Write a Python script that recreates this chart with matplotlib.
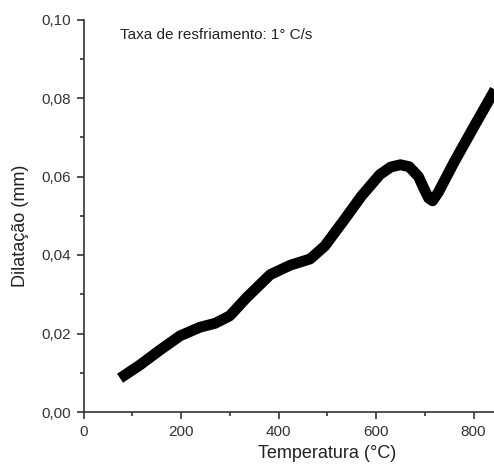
import matplotlib
matplotlib.use("Agg")
import matplotlib.pyplot as plt
from matplotlib.ticker import MultipleLocator, FuncFormatter

plt.rcParams['font.family'] = ['Liberation Sans', 'DejaVu Sans']

temperature = [75, 116, 157, 198, 239, 270, 300, 335, 383, 424, 465, 495, 535,
               570, 608, 630, 650, 668, 687, 700, 708, 716, 728, 760, 800, 838, 850]
dilatation = [0.0086, 0.0120, 0.0158, 0.0194, 0.0216, 0.0226, 0.0245, 0.0292,
              0.0350, 0.0374, 0.0390, 0.0423, 0.0490, 0.0550, 0.0605, 0.0624,
              0.0630, 0.0625, 0.0600, 0.0565, 0.0545, 0.0538, 0.0560, 0.0636,
              0.0725, 0.0808, 0.0834]
x_ticks = [0, 200, 400, 600, 800]
x_minor_ticks = [100, 300, 500, 700, 900]

xlabel = "Temperatura (°C)"
ylabel = "Dilatação (mm)"
annotation = "Taxa de resfriamento: 1° C/s"

fig = plt.figure(figsize=(4.94, 4.70), dpi=100)
# axes extends past right edge of the (cropped) figure
ax = fig.add_axes([83.5 / 494, 58 / 470, 487.5 / 494, 392.5 / 470])
ax.plot(temperature, dilatation, color='black', lw=7.8, solid_capstyle='butt',
        solid_joinstyle='round')
ax.set_xlim(0, 1000)
ax.set_ylim(0, 0.10)
ax.set_xticks(x_ticks)
ax.set_xticks(x_minor_ticks, minor=True)
ax.yaxis.set_major_locator(MultipleLocator(0.02))
ax.yaxis.set_minor_locator(MultipleLocator(0.01))
ax.yaxis.set_major_formatter(FuncFormatter(lambda v, p: f"{v:.2f}".replace('.', ',')))
for s in ['top', 'right']:
    ax.spines[s].set_visible(False)
for s in ['left', 'bottom']:
    ax.spines[s].set_color('#333333')
    ax.spines[s].set_linewidth(1.2)
ax.tick_params(which='major', direction='out', length=5, width=1.2, color='#333333',
               labelsize=11, labelcolor='#333333', pad=4)
ax.tick_params(which='minor', direction='out', length=3, width=1.2, color='#333333')
ax.set_xlabel(xlabel, fontsize=13, color='#222222')
ax.set_ylabel(ylabel, fontsize=13, color='#222222')
ax.xaxis.set_label_coords(0.5, -0.085)
ax.yaxis.set_label_coords(-0.112, 0.474)
ax.text(0.075, 0.960, annotation, transform=ax.transAxes, fontsize=11,
        color='#222222', va='center', ha='left')
fig.savefig("out.png", dpi=100)
